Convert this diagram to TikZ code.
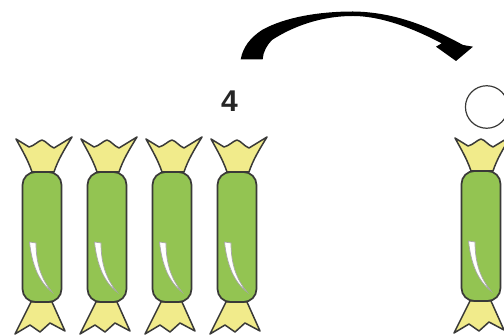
\documentclass[tikz,border=0pt]{standalone}
\usepackage{fontspec}
\setmainfont{Liberation Sans}
\definecolor{candygreen}{HTML}{93C452}
\definecolor{wrapyellow}{HTML}{F1EB8B}
\definecolor{inkdark}{HTML}{3A3A38}
\tikzset{
  wrapper/.style={fill=wrapyellow,draw=inkdark,line width=1.5pt,line join=round},
  candybody/.style={fill=candygreen,draw=inkdark,line width=1.7pt,rounded corners=13pt},
  shine/.style={fill=white,draw=black!35,line width=.7pt},
  candy/.pic={
    \path[wrapper] (-10,172) .. controls (-14,160) and (-20,150) .. (-26,139) -- (-13,147) .. controls (-8,146) and (-4,141) .. (0,140) .. controls (4,141) and (7,146) .. (12,148) -- (30,137) .. controls (22,150) and (16,160) .. (12,172) -- cycle;
    \path[wrapper] (-11,302) -- (-27,334) -- (-12,325) -- (-2,332) -- (8,323) -- (23,331) -- (10,302) -- cycle;
    \path[candybody] (-19.5,172) rectangle (19.5,302);
    \path[shine] (-12.5,242) -- (-6,243) .. controls (-6,265) and (0,280) .. (10,292) .. controls (-3,282) and (-10,265) .. (-12.5,242) -- cycle;
  }
}
\begin{document}
\begin{tikzpicture}[x=1pt,y=-1pt]
\useasboundingbox (0,0) rectangle (504,336);
\clip (0,0) rectangle (504,336);
\fill[white] (0,0) rectangle (504,336);
\pic at (42,0) {candy};
\pic at (107,0) {candy};
\pic at (172,0) {candy};
\pic at (237,0) {candy};
\pic at (481,-1) {candy};
\node[font=\bfseries\fontsize{30}{32}\selectfont,text=black!85,inner sep=0pt] (four) at (229.5,101.5) {4};
\node[circle,draw=inkdark,line width=1.2pt,minimum size=42.5pt,inner sep=0pt] (blank) at (486.7,107) {};
\fill[black] (240.7,59.3) .. controls (243,47) and (250,38) .. (262,30)
  .. controls (285,17) and (320,11.5) .. (353,11.5)
  .. controls (395,12) and (430,27) .. (463,45)
  -- (473,46.7) -- (456,61) -- (436,46.7) -- (441.7,43.3)
  .. controls (420,32) and (385,16) .. (353,16)
  .. controls (320,16) and (292,27) .. (272,40)
  .. controls (267,45) and (263,52) .. (262.7,59.3) -- cycle;
\end{tikzpicture}
\end{document}
